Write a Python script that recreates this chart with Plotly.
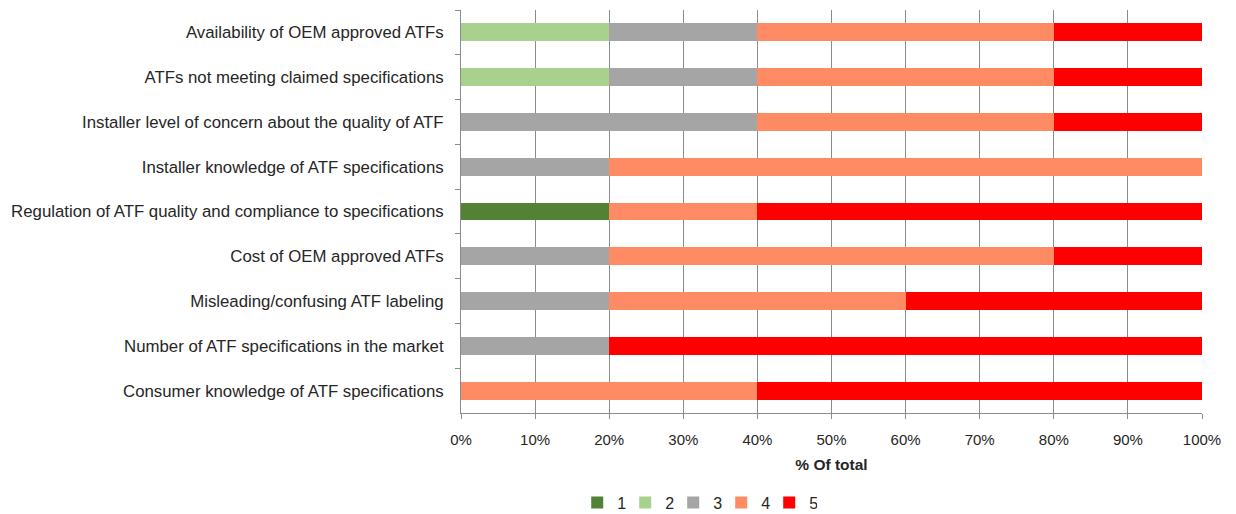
import plotly.graph_objects as go

categories = [
    "Availability of OEM approved ATFs",
    "ATFs not meeting claimed specifications",
    "Installer level of concern about the quality of ATF",
    "Installer knowledge of ATF specifications",
    "Regulation of ATF quality and compliance to specifications",
    "Cost of OEM approved ATFs",
    "Misleading/confusing ATF labeling",
    "Number of ATF specifications in the market",
    "Consumer knowledge of ATF specifications",
]
series_names = ["1", "2", "3", "4", "5"]
s1 = [0.0, 0.0, 0.0, 0.0, 0.2, 0.0, 0.0, 0.0, 0.0]
s2 = [0.2, 0.2, 0.0, 0.0, 0.0, 0.0, 0.0, 0.0, 0.0]
s3 = [0.2, 0.2, 0.4, 0.2, 0.0, 0.2, 0.2, 0.2, 0.0]
s4 = [0.4, 0.4, 0.4, 0.8, 0.2, 0.6, 0.4, 0.0, 0.4]
s5 = [0.2, 0.2, 0.2, 0.0, 0.6, 0.2, 0.4, 0.8, 0.6]
colors = ["#548235", "#A9D18E", "#A5A5A5", "#FF8B65", "#FF0000"]

fig = go.Figure()
for name, vals, col in zip(series_names, [s1, s2, s3, s4, s5], colors):
    fig.add_trace(go.Bar(
        y=categories, x=vals, name=name, orientation="h",
        marker=dict(color=col, line=dict(width=0)),
        hoverinfo="x+y+name",
    ))

font_family = "Liberation Sans, Arial, sans-serif"
fig.update_layout(
    barmode="stack",
    bargap=0.6,
    width=1236, height=514,
    margin=dict(l=461, r=34, t=10, b=101, autoexpand=False),
    plot_bgcolor="white", paper_bgcolor="white",
    font=dict(family=font_family, size=15, color="#262626"),
    showlegend=True,
    legend=dict(
        orientation="h", xref="container", yref="container",
        x=0.467, xanchor="left", y=0.022, yanchor="middle",
        font=dict(size=16), traceorder="normal", itemwidth=30,
        entrywidth=3, entrywidthmode="pixels",
    ),
    xaxis=dict(
        range=[0, 1], tickformat=".0%", dtick=0.1,
        showgrid=True, gridcolor="#8C8C8C", gridwidth=1,
        showline=True, linecolor="#8C8C8C", linewidth=1,
        ticks="outside", ticklen=5, tickcolor="#8C8C8C",
        zeroline=False,
        title=dict(text="<b>% Of total</b>", font=dict(size=15.5), standoff=12),
        tickfont=dict(size=15),
        ticklabelstandoff=8,
    ),
    yaxis=dict(
        autorange="reversed", type="category",
        showline=True, linecolor="#8C8C8C", linewidth=1,
        ticks="outside", ticklen=5, tickcolor="#8C8C8C",
        tickson="boundaries", showgrid=False,
        tickfont=dict(size=16.8),
        ticklabelstandoff=13,
    ),
)

fig.write_html(
    "out.html",
    config={"displayModeBar": False},
    post_script="document.body.style.margin='0';document.body.style.overflow='hidden';",
)
